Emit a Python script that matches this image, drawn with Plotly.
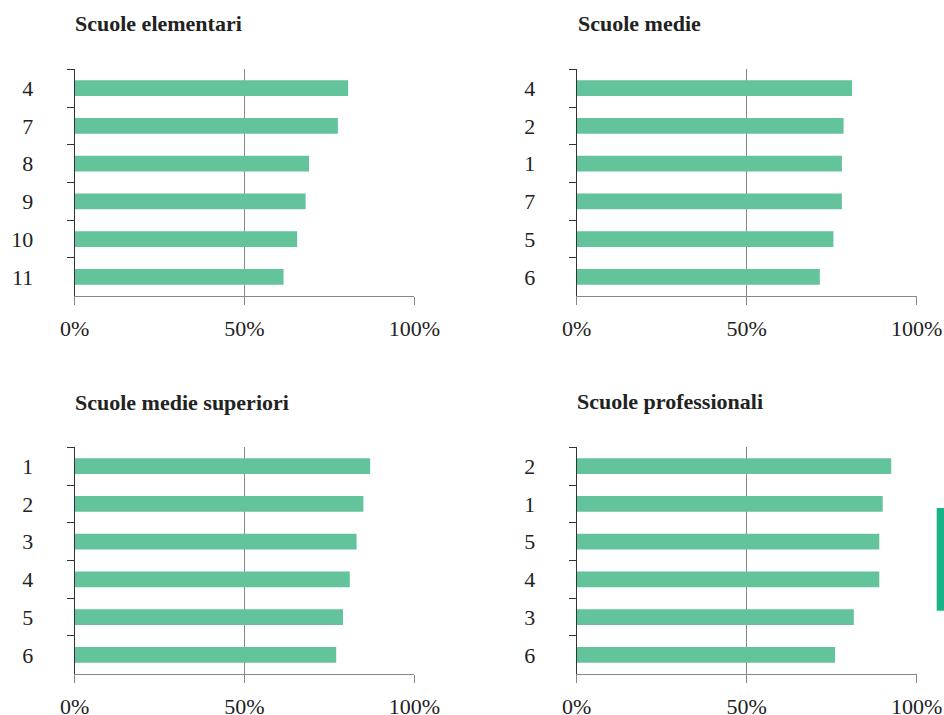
import plotly.graph_objects as go

W, H = 944, 715

# ---- data ----
titles = ["Scuole elementari", "Scuole medie", "Scuole medie superiori", "Scuole professionali"]
cats_elem = ["4", "7", "8", "9", "10", "11"]
vals_elem = [80.5, 77.5, 69, 68, 65.5, 61.5]
cats_medie = ["4", "2", "1", "7", "5", "6"]
vals_medie = [81, 78.5, 78, 78, 75.5, 71.5]
cats_sup = ["1", "2", "3", "4", "5", "6"]
vals_sup = [87, 85, 83, 81, 79, 77]
cats_prof = ["2", "1", "5", "4", "3", "6"]
vals_prof = [92.5, 90, 89, 89, 81.5, 76]
x_tickvals = [0, 50, 100]
x_ticktext = ["0%", "50%", "100%"]

BAR = "#63C39B"
SERIF = "Liberation Serif, Times New Roman, serif"
TXT = "#222222"

def px(x):
    return x / W

def py(y):
    return 1 - y / H

panels = [
    (cats_elem, vals_elem, (74.7, 414.3), (69.3, 295.7)),
    (cats_medie, vals_medie, (576.7, 916.7), (69.3, 295.7)),
    (cats_sup, vals_sup, (74.7, 414.3), (447.3, 673.7)),
    (cats_prof, vals_prof, (576.7, 916.7), (447.3, 673.7)),
]

fig = go.Figure()
layout = dict(
    width=W, height=H, margin=dict(l=0, r=0, t=0, b=0, autoexpand=False),
    paper_bgcolor="white", plot_bgcolor="white",
    showlegend=False, bargap=0.58,
    font=dict(family=SERIF, color=TXT, size=22),
)

for i, (cats, vals, (x0, x1), (y0, y1)) in enumerate(panels):
    n = "" if i == 0 else str(i + 1)
    fig.add_trace(go.Bar(
        x=vals, y=cats, orientation="h", marker=dict(color=BAR, line=dict(width=0)),
        xaxis="x" + n, yaxis="y" + n, hoverinfo="skip",
    ))
    layout["xaxis" + n] = dict(
        domain=[px(x0), px(x1)], range=[0, 100], anchor="y" + n,
        tickvals=x_tickvals, ticktext=x_ticktext, automargin=False,
        showgrid=True, gridcolor="#888888", gridwidth=1, zeroline=False,
        showline=True, linecolor="#888888", linewidth=1,
        ticks="outside", ticklen=8, tickcolor="#888888", tickwidth=1,
        ticklabelstandoff=5,
        tickfont=dict(family=SERIF, size=22, color=TXT),
        fixedrange=True,
    )
    layout["yaxis" + n] = dict(
        domain=[py(y1), py(y0)], anchor="x" + n, type="category",
        categoryorder="array", categoryarray=cats, range=[5.5, -0.5],
        showgrid=False, zeroline=False, automargin=False,
        showline=True, linecolor="#333333", linewidth=1,
        ticks="outside", tickson="boundaries", ticklen=7, tickcolor="#333333", tickwidth=1,
        ticklabelstandoff=36,
        tickfont=dict(family=SERIF, size=22, color=TXT),
        fixedrange=True,
    )

title_pos = [(73, 24), (576, 24), (73, 402.5), (575, 401)]
annotations = []
for t, (tx, ty) in zip(titles, title_pos):
    annotations.append(dict(
        text="<b>" + t + "</b>", x=px(tx), y=py(ty), xref="paper", yref="paper",
        xanchor="left", yanchor="middle", showarrow=False,
        font=dict(family=SERIF, size=22, color=TXT),
    ))
layout["annotations"] = annotations
layout["shapes"] = [dict(
    type="rect", xref="paper", yref="paper",
    x0=px(936.7), x1=px(944), y0=py(610.7), y1=py(508),
    fillcolor="#17B48A", line=dict(width=0), layer="above",
)]

fig.update_layout(**layout)
fig.write_html(
    "out.html",
    config={"displayModeBar": False},
    post_script="document.body.style.margin='0';document.body.style.overflow='hidden';",
)
